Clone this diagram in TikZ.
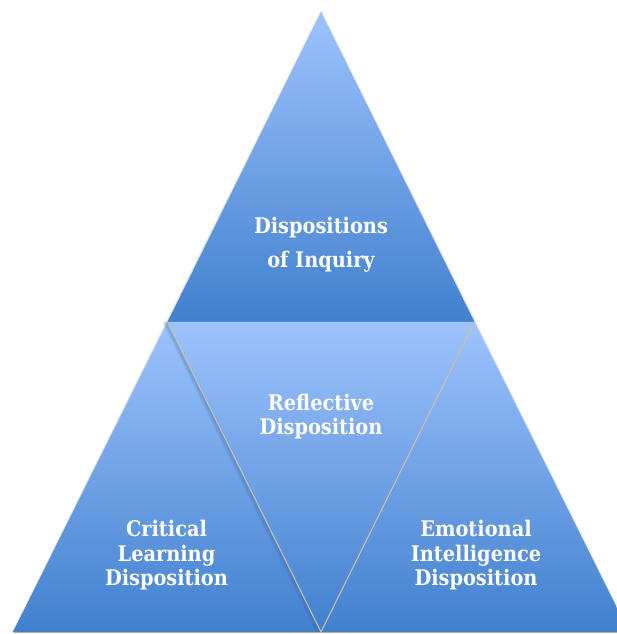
\documentclass[tikz,border=0pt]{standalone}
\usepackage{fontspec}
\newfontfamily\lblfont{DejaVu Serif Condensed}
\usetikzlibrary{calc}
\definecolor{lightblue}{RGB}{157,195,253}
\definecolor{darkblue}{RGB}{65,128,206}
\definecolor{seam}{RGB}{200,192,172}
\definecolor{shadowblue}{RGB}{40,85,150}
\tikzset{
  tri/.style={top color=lightblue, bottom color=darkblue, draw=none},
  seamline/.style={draw=seam, line width=1.1pt},
  label/.style={text=white, align=center, font=\lblfont\fontsize{21.5}{24.5}\selectfont\bfseries, inner sep=0pt},
}
\begin{document}
\begin{tikzpicture}[x=1pt,y=1pt]
\useasboundingbox (0,0) rectangle (617,634);
\clip (0,0) rectangle (617,634);
% vertices (pixel coordinates, y measured upward)
\coordinate (A)  at (321,622);
\coordinate (L)  at (167.5,312);
\coordinate (R)  at (474.5,312);
\coordinate (BL) at (13,2);
\coordinate (BM) at (321,2);
\coordinate (BR) at (629,2);
% faint outer shadow
\draw[black!12, line width=1.6pt, line join=round] (A) -- (BL) -- (BR) -- cycle;
\draw[black!30, line width=1.2pt] ($(BL)+(1,-0.8)$) -- ($(BR)+(0,-0.8)$);
% four triangles
\shade[tri] (A) -- (L) -- (R) -- cycle;
\shade[tri] (L) -- (BL) -- (BM) -- cycle;
\shade[tri] (R) -- (BM) -- (BR) -- cycle;
\shade[tri] (L) -- (R) -- (BM) -- cycle;
% shadow of the inverted triangle on the left triangle
\fill[shadowblue, opacity=0.25] (L) -- (BM) -- ($(BM)+(-3,0)$) -- ($(L)+(-3,0)$) -- cycle;
\fill[shadowblue, opacity=0.15] ($(L)+(-3,0)$) -- ($(BM)+(-3,0)$) -- ($(BM)+(-5,0)$) -- ($(L)+(-5,0)$) -- cycle;
% seams
\draw[seamline] (L) -- (BM) -- (R);
% labels (anchor=base is the baseline of the last line)
\node[label, font=\lblfont\fontsize{21.5}{34}\selectfont\bfseries, anchor=base] (top) at (321,366) {Dispositions\\of Inquiry};
\node[label, anchor=base] (mid) at (321,199) {Reflective\\Disposition};
\node[label, anchor=base] (left) at (166.5,48) {Critical\\Learning\\Disposition};
\node[label, anchor=base] (right) at (476,48) {Emotional\\Intelligence\\Disposition};
\end{tikzpicture}
\end{document}
